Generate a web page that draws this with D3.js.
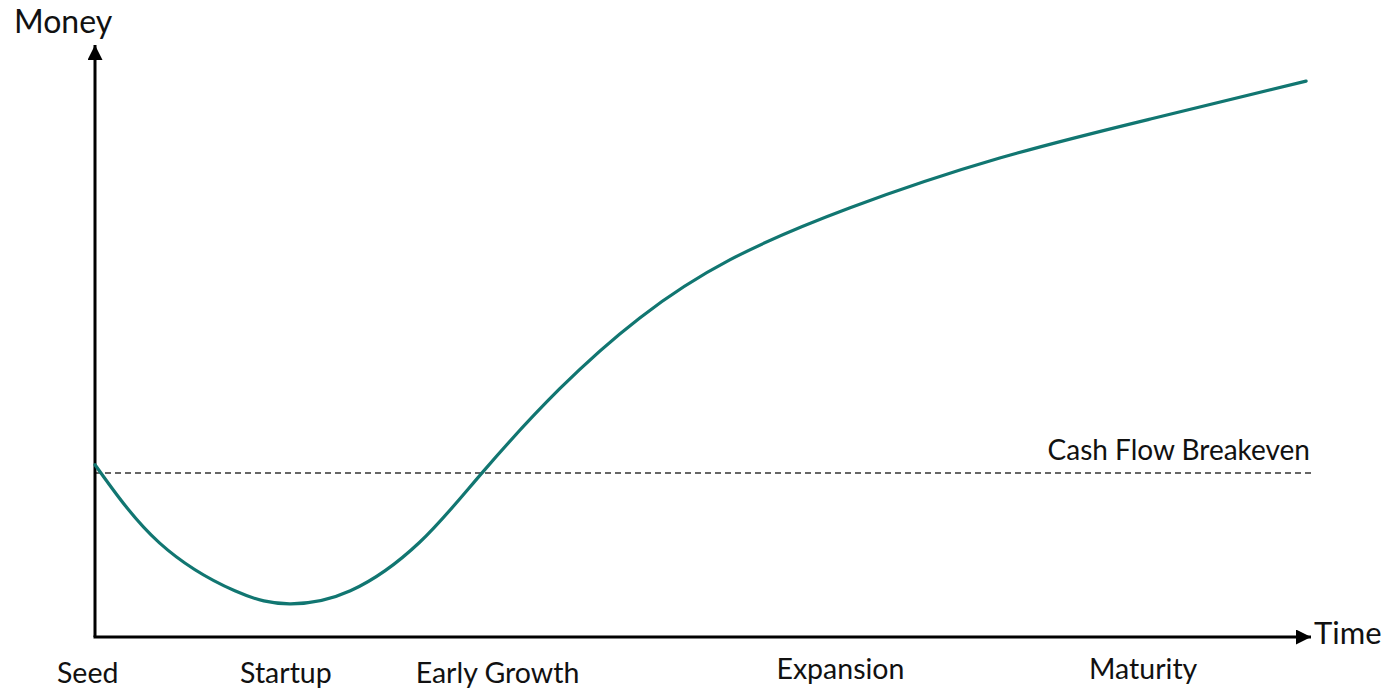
<!DOCTYPE html>
<html lang="en">
<head>
    <meta charset="UTF-8">
    <title>Business Life Cycle</title>
    <script src="https://d3js.org/d3.v7.min.js"></script>
    <style>
        body { margin: 0; background: #fff; }
        text { font-family: Lato, "Open Sans", sans-serif; fill: #111; }
    </style>
</head>
<body>
    <script>
// curve samples (time 0-100, money 0-100)
var timeVals  = [0, 5.3, 11.5, 16.0, 21.0, 26.7, 31.9, 38.2, 44.8, 52.2, 62.1, 74.4, 86.8, 99.6];
var moneyVals = [29.1, 15.9, 7.8, 5.6, 7.8, 16.0, 27.9, 41.9, 53.9, 63.7, 72.5, 80.9, 87.5, 93.9];

var stages    = ['Seed', 'Startup', 'Early Growth', 'Expansion', 'Maturity'];
var stageTime = [-0.6, 15.7, 33.1, 61.3, 86.2];

var breakeven = 27.7;
var breakevenLabel = 'Cash Flow Breakeven';

var width = 1393;
var height = 688;

var xScale = d3.scaleLinear()
               .domain([0, 100])
               .range([95, 1311]);

var yScale = d3.scaleLinear()
               .domain([0, 100])
               .range([637, 45]);

var svg = d3.select('body')
            .append('svg')
            .attr('width', width)
            .attr('height', height);

// arrow heads
var defs = svg.append('defs');
defs.append('marker')
    .attr('id', 'arrow')
    .attr('viewBox', '0 0 10 10')
    .attr('refX', 10)
    .attr('refY', 5)
    .attr('markerWidth', 6)
    .attr('markerHeight', 5)
    .attr('markerUnits', 'strokeWidth')
    .attr('orient', 'auto')
    .append('path')
    .attr('d', 'M0,0 L10,5 L0,10 z')
    .attr('fill', '#000');

// breakeven dashed line
svg.append('line')
   .attr('x1', xScale(0))
   .attr('x2', xScale(100))
   .attr('y1', yScale(breakeven))
   .attr('y2', yScale(breakeven))
   .attr('stroke', '#333')
   .attr('stroke-width', 1.6)
   .attr('stroke-dasharray', '6,4');

svg.append('text')
   .attr('x', xScale(100) - 1)
   .attr('y', yScale(breakeven) - 13)
   .attr('text-anchor', 'end')
   .attr('font-size', 28)
   .text(breakevenLabel);

// axes with arrows
svg.append('line')
   .attr('x1', xScale(0)).attr('y1', yScale(0))
   .attr('x2', xScale(0)).attr('y2', yScale(100))
   .attr('stroke', '#000')
   .attr('stroke-width', 3)
   .attr('marker-end', 'url(#arrow)');

svg.append('line')
   .attr('x1', xScale(0) - 1.5).attr('y1', yScale(0))
   .attr('x2', xScale(100)).attr('y2', yScale(0))
   .attr('stroke', '#000')
   .attr('stroke-width', 3)
   .attr('marker-end', 'url(#arrow)');

// curve
var line = d3.line()
             .x(function(d, i) { return xScale(timeVals[i]); })
             .y(function(d) { return yScale(d); })
             .curve(d3.curveNatural);

svg.append('path')
   .datum(moneyVals)
   .attr('d', line)
   .attr('fill', 'none')
   .attr('stroke', '#117671')
   .attr('stroke-width', 3.2)
   .attr('stroke-linecap', 'round');

// axis titles
svg.append('text')
   .attr('x', 14)
   .attr('y', 33)
   .attr('font-size', 32)
   .text('Money');

svg.append('text')
   .attr('x', 1314)
   .attr('y', 644)
   .attr('font-size', 31)
   .text('Time');

// stage labels
svg.selectAll('.stage')
   .data(stages)
   .enter()
   .append('text')
   .attr('class', 'stage')
   .attr('x', function(d, i) { return xScale(stageTime[i]); })
   .attr('y', function(d, i) { return i < 3 ? 683 : 679; })
   .attr('text-anchor', 'middle')
   .attr('font-size', 28.5)
   .text(function(d) { return d; });
    </script>
</body>
</html>
